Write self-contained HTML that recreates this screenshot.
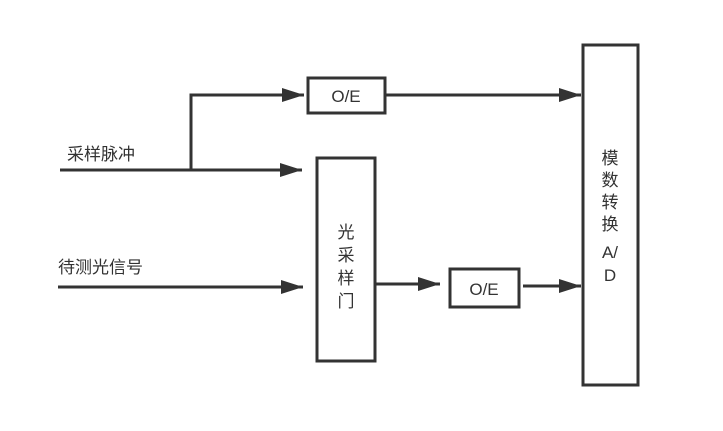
<!DOCTYPE html>
<html><head><meta charset="utf-8"><style>
body{margin:0;background:#fff}
svg text{font-family:"Liberation Sans","Noto Sans CJK SC",sans-serif;fill:#333;font-size:17px}
</style></head><body>
<svg width="723" height="426" xmlns="http://www.w3.org/2000/svg">
<defs><marker id="a" markerWidth="22" markerHeight="16" refX="22" refY="8" orient="auto" markerUnits="userSpaceOnUse"><path d="M0,1 L22,8 L0,15 Z" fill="#333"/></marker></defs>
<g stroke="#333" stroke-width="3" fill="none">
<rect x="308" y="78" width="77" height="35" fill="#fff"/>
<rect x="317" y="158" width="58" height="203" fill="#fff"/>
<rect x="450" y="269" width="69" height="38" fill="#fff"/>
<rect x="583" y="45" width="55" height="340" fill="#fff"/>
<path d="M191,170 V95 H304" marker-end="url(#a)"/>
<path d="M60,170 H302" marker-end="url(#a)"/>
<path d="M58,287 H303" marker-end="url(#a)"/>
<path d="M376,284 H440" marker-end="url(#a)"/>
<path d="M523,286 H581" marker-end="url(#a)"/>
<path d="M386,95 H581" marker-end="url(#a)"/>
</g>
<g style="font-size:18px">
<text x="346" y="102" text-anchor="middle">O/E</text>
<text x="484" y="295" text-anchor="middle">O/E</text>
</g>
<text x="67" y="160">采样脉冲</text>
<text x="58" y="273">待测光信号</text>
<g text-anchor="middle">
<text x="346" y="238">光</text><text x="346" y="261">采</text><text x="346" y="284">样</text><text x="346" y="307">门</text>
<text x="610" y="164">模</text><text x="610" y="186">数</text><text x="610" y="208">转</text><text x="610" y="230">换</text><text x="610" y="258">A/</text><text x="610" y="281">D</text>
</g>
</svg>
</body></html>
